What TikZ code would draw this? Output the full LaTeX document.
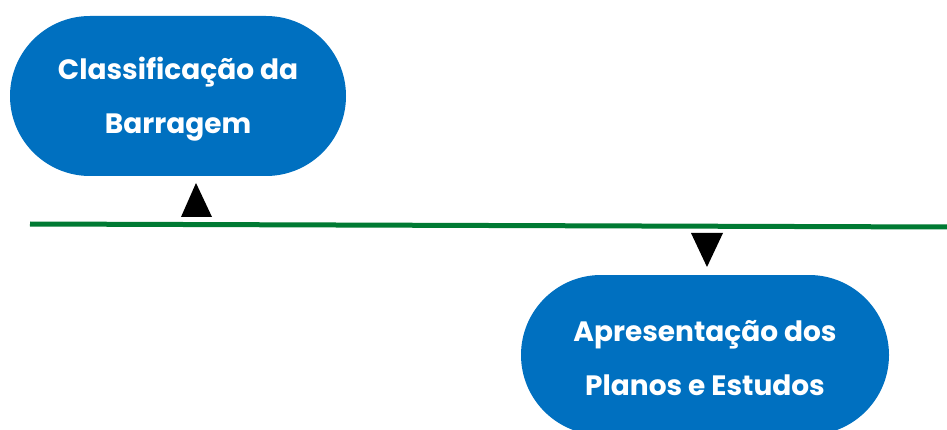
\documentclass[tikz,border=0pt]{standalone}
\usepackage{fontspec}
\setmainfont{Poppins}[BoldFont={* Bold}]
\definecolor{boxblue}{RGB}{0,112,192}
\definecolor{linegreen}{RGB}{0,122,51}
\begin{document}
\begin{tikzpicture}[x=1pt,y=-1pt,
  stage/.style={fill=boxblue, draw=none, rounded corners=80pt, minimum width=336pt, minimum height=160pt, inner sep=0pt},
  stagetext/.style={text=white, align=center, font=\bfseries\fontsize{28}{54}\selectfont, inner sep=0pt},
  marker/.style={fill=black}]
\useasboundingbox (0,0) rectangle (947,430);
\clip (0,0) rectangle (947,430);
\node[stage] (c) at (178,96) {};
\node[stagetext] (ct) at ([yshift=-3.5pt]c.center) {Classificação da\\Barragem};
\node[stage, minimum width=368pt] (a) at (705,355) {};
\node[stagetext] (at) at ([yshift=-3.5pt]a.center) {Apresentação dos\\Planos e Estudos};
\coordinate (l0) at (30,224);
\coordinate (l1) at (947,227);
\draw[linegreen, line width=5pt] (l0) -- (l1);
\fill[marker] (181,217) -- (196,183) -- (212,217) -- cycle;
\fill[marker] (691,233) -- (723,233) -- (707,267) -- cycle;
\end{tikzpicture}
\end{document}
